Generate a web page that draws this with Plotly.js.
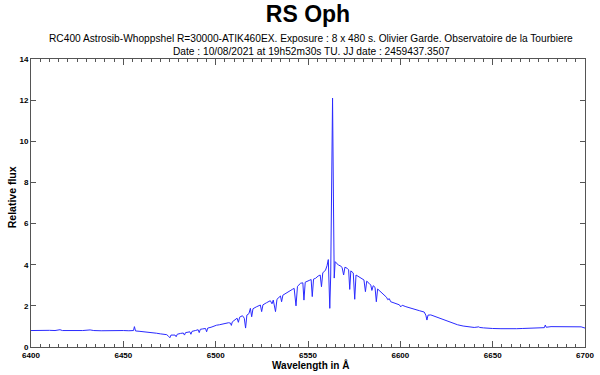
<!DOCTYPE html>
<html>
<head>
<meta charset="utf-8">
<script src="https://cdn.plot.ly/plotly-3.0.1.min.js"></script>
<style>html,body{margin:0;padding:0;background:#fff;}#chart{width:600px;height:375px;}</style>
</head>
<body>
<div id="chart"></div>
<script>
// Wavelength (Angstrom) and relative flux
const wavelength = [
6400.0,6403,6406,6410,6413,6415.7,6417,6420,6425,6428,6432,6434,6438,6442,6446,6450,6453,6455.5,6456,6456.6,
6459,6462,6465,6468,6470,6472,6473.5,6474.5,6475.2,6475.8,6477,6478,6478.6,6479.2,6481,6482.5,6483.1,6483.7,6485,6486,
6486.6,6487.2,6489,6490.5,6491.1,6491.7,6493,6494.5,6495.1,6495.7,6497.5,6499,6500.5,6502,6503.5,6505,6507,6508,6508.5,6509,
6510.5,6511.6,6512.3,6513,6514.5,6515.5,6516.2,6516.9,6518,6518.8,6519.5,6520.2,6522,6524.2,6524.9,6525.6,6527.5,6529.6,6530.5,6531.2,
6532.4,6533.2,6535.1,6535.7,6536.4,6538,6540.5,6541.5,6542.5,6543.5,6544.3,6546,6547.2,6547.8,6548.5,6549.6,6551,6551.7,6552.3,6553,
6554.1,6555.5,6556.6,6557.3,6558,6559.5,6560.3,6561.0,6561.4,6561.8,6562.3,6562.8,6563.3,6563.8,6564.2,6564.7,6565.5,6566.5,6567.7,6568.5,
6569.3,6570,6571.3,6572.0,6572.6,6573.2,6574.5,6575.3,6576,6577.5,6579,6580.3,6581.1,6581.8,6583,6584,6584.6,6585.3,6586.3,6587,
6587.7,6589.4,6591,6592.5,6593.2,6594,6594.8,6597,6599.5,6600.2,6601,6603,6605.6,6608,6610.5,6612.9,6613.8,6614.4,6615,6616.5,
6619,6621,6623.7,6626,6628,6631,6634,6636,6638.2,6640,6642.5,6643,6645,6647.3,6650,6654.5,6658,6661.7,6663,6666,
6669,6672,6675,6678,6678.5,6679,6681.6,6685,6690.6,6695,6697.9,6700
];
const flux = [
0.80,0.81,0.80,0.81,0.80,0.84,0.80,0.80,0.79,0.80,0.83,0.80,0.79,0.80,0.79,0.80,0.79,0.80,0.99,0.78,
0.76,0.74,0.72,0.67,0.64,0.62,0.60,0.52,0.45,0.58,0.60,0.58,0.50,0.62,0.66,0.68,0.58,0.70,0.72,0.74,
0.62,0.76,0.80,0.84,0.70,0.86,0.88,0.90,0.74,0.92,0.96,1.02,1.06,1.08,1.12,1.14,1.18,1.16,1.05,1.22,
1.30,1.40,1.20,1.45,1.52,1.40,0.92,1.55,1.62,1.88,1.47,1.86,1.95,2.04,1.72,2.05,2.15,2.25,2.10,2.28,
1.72,2.32,2.48,2.20,2.52,2.62,2.77,2.80,2.85,2.00,2.95,3.10,3.12,2.28,3.15,3.18,3.25,3.28,2.45,3.30,
3.34,3.45,3.50,2.93,3.60,3.74,3.95,4.25,3.00,1.88,3.50,8.00,12.10,7.00,3.35,4.15,4.05,3.98,3.94,3.85,
3.50,3.88,3.82,3.75,2.80,3.70,3.60,2.32,3.50,3.42,3.34,3.26,2.69,3.20,3.10,3.01,2.75,2.98,2.90,2.20,
2.82,2.69,2.55,2.42,2.30,2.35,2.20,2.12,2.05,1.95,2.03,1.96,1.88,1.82,1.76,1.70,1.55,1.31,1.55,1.56,
1.48,1.40,1.31,1.22,1.16,1.08,1.02,0.99,0.96,0.95,0.98,0.95,0.93,0.91,0.90,0.89,0.88,0.86,0.89,0.90,
0.91,0.92,0.93,0.94,1.07,0.96,0.99,0.99,1.00,0.99,0.98,0.92
];
const xTicks = [6400,6450,6500,6550,6600,6650,6700];
const yTicks = [0,2,4,6,8,10,12,14];
const titleText = 'RS Oph';
const subtitle1 = 'RC400 Astrosib-Whoppshel R=30000-ATIK460EX. Exposure : 8 x 480 s. Olivier Garde. Observatoire de la Tourbiere';
const subtitle2 = 'Date : 10/08/2021 at 19h52m30s TU. JJ date : 2459437.3507';
const xTitle = 'Wavelength in Å';
const yTitle = 'Relative flux';

const font = 'Liberation Sans, Arial, Helvetica, sans-serif';
const axColor = '#555';

const trace = {
  x: wavelength, y: flux, type: 'scatter', mode: 'lines',
  line: {color: '#2a2aff', width: 1}, hoverinfo: 'skip'
};

const layout = {
  width: 600, height: 375,
  margin: {l: 31, r: 15, t: 59, b: 28, pad: 0},
  paper_bgcolor: '#fff', plot_bgcolor: '#fff',
  showlegend: false,
  title: {
    text: '<b>' + titleText + '</b>',
    font: {family: font, size: 23, color: '#000'},
    x: 0.5, xref: 'paper', xanchor: 'center',
    y: 1 - 14/375, yref: 'container', yanchor: 'middle'
  },
  annotations: [
    {text: subtitle1, xref: 'paper', yref: 'paper', x: 0.506, y: 1 + 20.5/288, xanchor: 'center', yanchor: 'middle',
     showarrow: false, font: {family: font, size: 10.2, color: '#000'}},
    {text: subtitle2, xref: 'paper', yref: 'paper', x: 0.506, y: 1 + 7.5/288, xanchor: 'center', yanchor: 'middle',
     showarrow: false, font: {family: font, size: 10.2, color: '#000'}},
    {text: '<b>' + xTitle + '</b>', xref: 'paper', yref: 'paper', x: 0.505, y: -17.5/288, xanchor: 'center', yanchor: 'middle',
     showarrow: false, font: {family: font, size: 10, color: '#000'}},
    {text: '<b>' + yTitle + '</b>', xref: 'paper', yref: 'paper', x: -19/554, y: 0.52, xanchor: 'center', yanchor: 'middle',
     textangle: -90, showarrow: false, font: {family: font, size: 10.5, color: '#000'}}
  ],
  xaxis: {
    range: [6400, 6700], tickmode: 'array', tickvals: xTicks, ticktext: xTicks.map(String),
    ticks: 'inside', ticklen: 6, tickcolor: axColor, tickwidth: 1,
    minor: {dtick: 5, ticks: 'inside', ticklen: 3, tickcolor: axColor, showgrid: false},
    showline: true, linecolor: axColor, linewidth: 1, mirror: 'ticks',
    showgrid: false, zeroline: false,
    tickfont: {family: font, size: 8, color: '#000', weight: 'bold'}
  },
  yaxis: {
    range: [0, 14], tickmode: 'array', tickvals: yTicks, ticktext: yTicks.map(String),
    ticks: 'inside', ticklen: 5, tickcolor: axColor, tickwidth: 1,
    showline: true, linecolor: axColor, linewidth: 1, mirror: 'ticks',
    showgrid: false, zeroline: false,
    tickfont: {family: font, size: 8, color: '#000', weight: 'bold'}
  }
};

Plotly.newPlot('chart', [trace], layout, {staticPlot: true, displayModeBar: false});
</script>
</body>
</html>
